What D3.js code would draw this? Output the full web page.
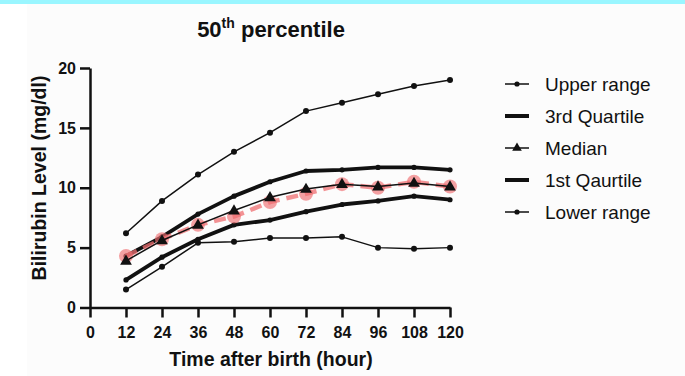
<!DOCTYPE html>
<html>
<head>
<meta charset="utf-8">
<script src="https://cdn.jsdelivr.net/npm/d3@7"></script>
<style>
  html, body { margin: 0; padding: 0; background: #ffffff; }
  svg { display: block; font-family: "Liberation Sans", Arial, Helvetica, sans-serif; }
</style>
</head>
<body>
<svg id="chart" width="685" height="376"></svg>
<script>
// Bilirubin levels (mg/dl) by hours after birth
const hours = [12, 24, 36, 48, 60, 72, 84, 96, 108, 120];
const upperRange    = [6.2, 8.9, 11.1, 13.0, 14.6, 16.4, 17.1, 17.8, 18.5, 19.0];
const thirdQuartile = [4.3, 5.9, 7.8, 9.3, 10.5, 11.4, 11.5, 11.7, 11.7, 11.5];
const median        = [3.9, 5.6, 6.9, 8.1, 9.2, 9.9, 10.3, 10.1, 10.4, 10.1];
const firstQuartile = [2.3, 4.2, 5.7, 6.9, 7.3, 8.0, 8.6, 8.9, 9.3, 9.0];
const lowerRange    = [1.5, 3.4, 5.4, 5.5, 5.8, 5.8, 5.9, 5.0, 4.9, 5.0];
// 50th percentile reference curve (dashed overlay)
const percentile50  = [4.3, 5.7, 6.9, 7.6, 8.8, 9.5, 10.3, 10.0, 10.5, 10.1];

const xTicks = [0, 12, 24, 36, 48, 60, 72, 84, 96, 108, 120];
const yTicks = [0, 5, 10, 15, 20];
const legendLabels = ["Upper range", "3rd Quartile", "Median", "1st Qaurtile", "Lower range"];

const svg = d3.select("#chart");

// page backdrop
svg.append("rect").attr("x", 0).attr("y", 0).attr("width", 685).attr("height", 376).attr("fill", "#ffffff");
svg.append("rect").attr("x", 27).attr("y", 4).attr("width", 658).attr("height", 372).attr("fill", "#fcfcfc");
svg.append("rect").attr("x", 0).attr("y", 0).attr("width", 685).attr("height", 4).attr("fill", "#9af6ff");

const x = d3.scaleLinear().domain([0, 120]).range([90, 450]);
const y = d3.scaleLinear().domain([0, 20]).range([307.5, 68]);

// axes
const xAxis = svg.append("g")
  .attr("transform", `translate(0,${y(0)})`)
  .call(d3.axisBottom(x).tickValues(xTicks).tickSize(10).tickSizeOuter(0).tickPadding(9));
const yAxis = svg.append("g")
  .attr("transform", `translate(${x(0)},0)`)
  .call(d3.axisLeft(y).tickValues(yTicks).tickSize(10).tickSizeOuter(0).tickPadding(4));

[xAxis, yAxis].forEach(g => {
  g.select(".domain").attr("stroke", "#111").attr("stroke-width", 2.5);
  g.selectAll(".tick line").attr("stroke", "#111").attr("stroke-width", 2.5);
  g.selectAll(".tick text")
    .attr("fill", "#111")
    .attr("font-size", 16)
    .attr("font-weight", "bold")
    .attr("font-family", "'Liberation Sans', Arial, sans-serif");
});

const line = d3.line().x(d => x(d[0])).y(d => y(d[1]));
const pairs = vals => hours.map((h, i) => [h, vals[i]]);

function drawSeries(vals, width, dotR) {
  svg.append("path")
    .attr("d", line(pairs(vals)))
    .attr("fill", "none")
    .attr("stroke", "#111")
    .attr("stroke-width", width)
    .attr("stroke-linejoin", "round");
  svg.append("g").selectAll("circle")
    .data(pairs(vals))
    .join("circle")
    .attr("cx", d => x(d[0]))
    .attr("cy", d => y(d[1]))
    .attr("r", dotR)
    .attr("fill", "#111");
}

drawSeries(upperRange, 1.5, 3);
drawSeries(lowerRange, 1.5, 3);
drawSeries(thirdQuartile, 3.8, 2.6);
drawSeries(firstQuartile, 3.8, 2.6);

// dashed 50th percentile curve
svg.append("path")
  .attr("d", line(pairs(percentile50)))
  .attr("fill", "none")
  .attr("stroke", "#ef6f72")
  .attr("stroke-opacity", 0.75)
  .attr("stroke-width", 4.5)
  .attr("stroke-dasharray", "12,7");
svg.append("g").selectAll("circle")
  .data(pairs(percentile50))
  .join("circle")
  .attr("cx", d => x(d[0]))
  .attr("cy", d => y(d[1]))
  .attr("r", 7)
  .attr("fill", "#ef6f72")
  .attr("fill-opacity", 0.65);

// median with triangle markers
const tri = d3.symbol().type(d3.symbolTriangle).size(60);
svg.append("path")
  .attr("d", line(pairs(median)))
  .attr("fill", "none")
  .attr("stroke", "#111")
  .attr("stroke-width", 1.5);
svg.append("g").selectAll("path")
  .data(pairs(median))
  .join("path")
  .attr("d", tri)
  .attr("transform", d => `translate(${x(d[0])},${y(d[1]) + 0.5})`)
  .attr("fill", "#111");

// title
const title = svg.append("text")
  .attr("x", 271).attr("y", 37)
  .attr("text-anchor", "middle")
  .attr("font-size", 22)
  .attr("font-weight", "bold")
  .attr("fill", "#111");
title.append("tspan").text("50");
title.append("tspan").attr("font-size", 14).attr("dy", -9).text("th");
title.append("tspan").attr("dy", 9).text(" percentile");

// axis titles
svg.append("text")
  .attr("x", 271).attr("y", 366)
  .attr("text-anchor", "middle")
  .attr("font-size", 19.5)
  .attr("font-weight", "bold")
  .attr("fill", "#111")
  .text("Time after birth (hour)");
svg.append("text")
  .attr("transform", "translate(46,178) rotate(-90)")
  .attr("text-anchor", "middle")
  .attr("font-size", 19.5)
  .attr("font-weight", "bold")
  .attr("fill", "#111")
  .text("Bilirubin Level (mg/dl)");

// legend
const legendStyles = [
  { width: 1.5, marker: "dot" },
  { width: 4, marker: "none" },
  { width: 1.5, marker: "tri" },
  { width: 4, marker: "none" },
  { width: 1.5, marker: "dot" }
];
const legendY = d3.scalePoint().domain(legendLabels).range([84, 212]);
const legend = svg.append("g");
legendLabels.forEach((label, i) => {
  const row = legend.append("g").attr("transform", `translate(0,${legendY(label)})`);
  const st = legendStyles[i];
  row.append("line")
    .attr("x1", 505).attr("x2", 529).attr("y1", 0).attr("y2", 0)
    .attr("stroke", "#111").attr("stroke-width", st.width);
  if (st.marker === "dot") {
    row.append("circle").attr("cx", 517).attr("cy", 0).attr("r", 2.6).attr("fill", "#111");
  } else if (st.marker === "tri") {
    row.append("path").attr("d", d3.symbol().type(d3.symbolTriangle).size(40))
      .attr("transform", "translate(517,0)").attr("fill", "#111");
  }
  row.append("text")
    .attr("x", 545).attr("y", 0).attr("dy", "0.36em")
    .attr("font-size", 19)
    .attr("fill", "#111")
    .text(label);
});
</script>
</body>
</html>
